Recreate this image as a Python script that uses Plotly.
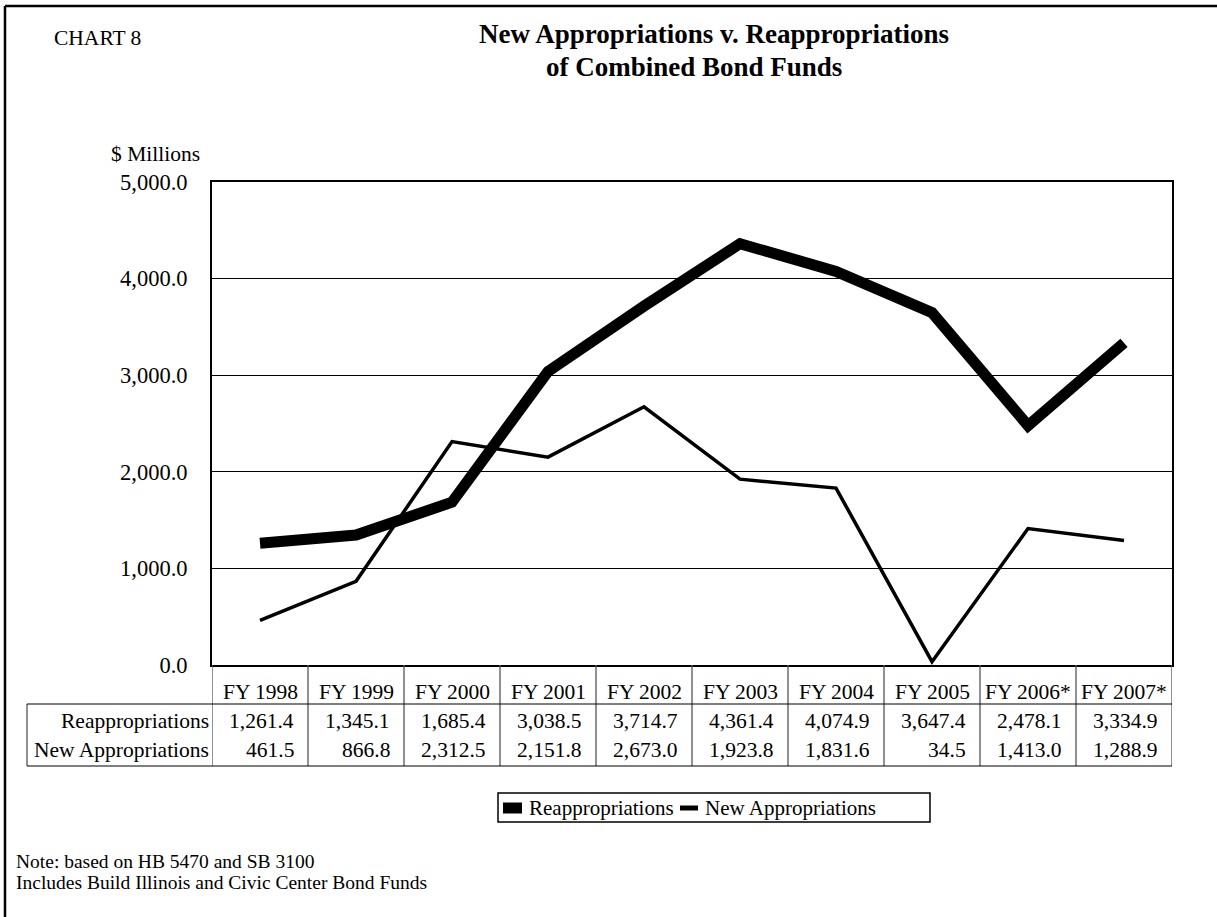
import plotly.graph_objects as go

# Fiscal years and appropriation amounts ($ millions)
years = ["FY 1998", "FY 1999", "FY 2000", "FY 2001", "FY 2002",
         "FY 2003", "FY 2004", "FY 2005", "FY 2006*", "FY 2007*"]
reappropriations = [1261.4, 1345.1, 1685.4, 3038.5, 3714.7,
                    4361.4, 4074.9, 3647.4, 2478.1, 3334.9]
new_appropriations = [461.5, 866.8, 2312.5, 2151.8, 2673.0,
                      1923.8, 1831.6, 34.5, 1413.0, 1288.9]
y_ticks = [0, 1000, 2000, 3000, 4000, 5000]

series_names = ["Reappropriations", "New Appropriations"]
series_values = [reappropriations, new_appropriations]
series_widths = [11, 3.5]

W, H = 1217, 917
L, R, T, B = 212, 1172, 182, 665
FONT = "Liberation Serif, Times New Roman, serif"


def px(xp):
    """pixel column -> paper x"""
    return (xp - L) / (R - L)


def py(yp):
    """pixel row -> paper y"""
    return (B - yp) / (B - T)


fig = go.Figure()
for name, vals, w in zip(series_names, series_values, series_widths):
    fig.add_trace(go.Scatter(x=years, y=vals, mode="lines", name=name,
                             line=dict(color="black", width=w),
                             showlegend=False))

shapes = []
annotations = []


def hline(x0, x1, y, color="black", width=1.2):
    shapes.append(dict(type="line", xref="paper", yref="paper",
                       x0=px(x0), x1=px(x1), y0=py(y), y1=py(y),
                       line=dict(color=color, width=width)))


def vline(x, y0, y1, color="black", width=1.2):
    shapes.append(dict(type="line", xref="paper", yref="paper",
                       x0=px(x), x1=px(x), y0=py(y0), y1=py(y1),
                       line=dict(color=color, width=width)))


def text(x, y, s, size, anchor="center", **kw):
    annotations.append(dict(x=px(x), y=py(y), xref="paper", yref="paper",
                            text=s, showarrow=False, xanchor=anchor,
                            yanchor="middle",
                            font=dict(size=size, family=FONT, color="black"),
                            **kw))


# outer frame (top and left edges)
hline(5, 1240, 6, width=2.5)
vline(5, 6, 940, width=2.5)

# data table beneath the plot
HEAD_BOTTOM, TABLE_BOTTOM = 704, 766
TABLE_LEFT = 27
for i in range(len(years) + 1):
    shapes.append(dict(type="line", xref="x", yref="paper",
                       x0=i - 0.5, x1=i - 0.5, y0=py(B), y1=py(TABLE_BOTTOM),
                       line=dict(color="#555555", width=1.3)))
vline(TABLE_LEFT, HEAD_BOTTOM, TABLE_BOTTOM, color="#555555", width=1.3)
hline(TABLE_LEFT, R, HEAD_BOTTOM)
hline(TABLE_LEFT, R, TABLE_BOTTOM)

TABLE_FONT = 21.5
for yr in years:
    annotations.append(dict(x=yr, y=py(692), xref="x", yref="paper",
                            text=yr, showarrow=False, xanchor="center",
                            yanchor="middle",
                            font=dict(size=TABLE_FONT, family=FONT)))

row_centers = [721, 750]
for name, vals, yc in zip(series_names, series_values, row_centers):
    text(L - 1, yc, name, TABLE_FONT, anchor="right")
    for i, v in enumerate(vals):
        annotations.append(dict(x=i + 0.5, y=py(yc), xref="x", yref="paper",
                                xshift=-12, text=f"{v:,.1f}", showarrow=False,
                                xanchor="right", yanchor="middle",
                                font=dict(size=TABLE_FONT, family=FONT)))

# legend box
shapes.append(dict(type="rect", xref="paper", yref="paper",
                   x0=px(498), x1=px(930), y0=py(793), y1=py(822),
                   line=dict(color="black", width=1.5), fillcolor="white"))
legend_items = [(503, 522, 11, 527), (680, 698, 5, 703)]
for name, (s0, s1, thick, tx) in zip(series_names, legend_items):
    shapes.append(dict(type="rect", xref="paper", yref="paper",
                       x0=px(s0), x1=px(s1),
                       y0=py(808 - thick / 2), y1=py(808 + thick / 2),
                       line=dict(width=0), fillcolor="black"))
    text(tx, 808, name, 21, anchor="left")

# titles and notes
text(714, 34, "<b>New Appropriations v. Reappropriations</b>", 27)
text(694, 67, "<b>of Combined Bond Funds</b>", 27)
text(52, 38, "CHART 8", 21.5, anchor="left")
text(202, 154, "$ Millions", 21.5, anchor="right")
text(14, 861, "Note: based on HB 5470 and SB 3100", 19.5, anchor="left")
text(14, 882, "Includes Build Illinois and Civic Center Bond Funds", 19.5,
     anchor="left")

fig.update_layout(
    width=W, height=H,
    margin=dict(l=L, r=W - R, t=T, b=H - B, autoexpand=False),
    paper_bgcolor="white", plot_bgcolor="white",
    font=dict(family=FONT, color="black", size=21),
    shapes=shapes, annotations=annotations,
    showlegend=False,
    xaxis=dict(type="category", range=[-0.5, len(years) - 0.5],
               showticklabels=False, showgrid=False, ticks="",
               showline=True, mirror=True, linecolor="black", linewidth=2,
               fixedrange=True),
    yaxis=dict(range=[0, 5000], tickvals=y_ticks, tickformat=",.1f",
               showgrid=True, gridcolor="black", gridwidth=1,
               showline=True, mirror=True, linecolor="black", linewidth=2,
               zeroline=False, ticks="", ticklabelstandoff=18,
               tickfont=dict(size=22.5, family=FONT), fixedrange=True),
)

fig.write_html("out.html")
